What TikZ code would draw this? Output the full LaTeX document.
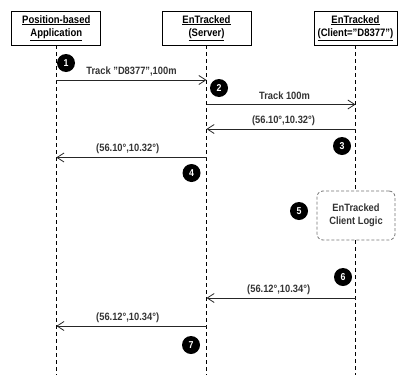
\documentclass[tikz,border=0pt]{standalone}
\usepackage{fontspec}
\setmainfont[FakeStretch=0.88]{Liberation Sans}
\usetikzlibrary{arrows.meta,positioning,calc}
\tikzset{
 actor/.style={draw,align=center,minimum height=34pt,minimum width=89pt,line width=0.8pt,
             font=\bfseries\fontsize{10.8}{13.5}\selectfont},
 life/.style={dash pattern=on 4pt off 3pt,line width=0.7pt},
 msg/.style={-{Straight Barb[length=7pt,width=9pt]},line width=0.8pt,draw=black!85},
 lbl/.style={anchor=base,inner sep=0pt,text=black!80,font=\bfseries\fontsize{10.6}{11}\selectfont},
 stepnum/.style={circle,fill=black,text=white,minimum size=18pt,inner sep=0pt,
             font=\bfseries\fontsize{10}{10}\selectfont},
 logic/.style={draw=black!55,dash pattern=on 3pt off 2pt,line width=0.8pt,rounded corners=6pt,
             minimum width=78pt,minimum height=49pt,align=center,text=black!80,
             font=\bfseries\fontsize{10.6}{12.5}\selectfont}
}
\begin{document}
\begin{tikzpicture}[x=1pt,y=-1pt]
\useasboundingbox (0,0) rectangle (398,375);
% actors
\node[actor] (app) at (56.3,28) {\underline{Position-based}\\\underline{Application}};
\node[actor] (server) at (206.5,28) {\underline{EnTracked}\\\underline{(Server)}};
\node[actor,minimum width=83pt] (client) at (355.5,28) {\underline{EnTracked}\\\underline{(Client="D8377")}};
\node[logic] (logic) at (356,215.5) {EnTracked\\Client Logic};
\coordinate (bottom) at (0,375);
% lifelines
\draw[life] (app.south) -- (app.south|-bottom);
\draw[life] (server.south) -- (server.south|-bottom);
\draw[life] (client.south) -- (client.south|-logic.north);
\draw[life] (client.south|-logic.south) -- (client.south|-bottom);
% messages
\coordinate (m1) at (0,80);
\coordinate (m2) at (0,104.5);
\coordinate (m3) at (0,129);
\coordinate (m4) at (0,157.5);
\coordinate (m6) at (0,298);
\coordinate (m7) at (0,326);
\draw[msg] (app|-m1) -- (server|-m1);
\draw[msg] (server|-m2) -- (client|-m2);
\draw[msg] (client|-m3) -- (server|-m3);
\draw[msg] (server|-m4) -- (app|-m4);
\draw[msg] (client|-m6) -- (server|-m6);
\draw[msg] (server|-m7) -- (app|-m7);
\node[lbl] (t1) at (131.5,74.8) {Track "D8377",100m};
\node[lbl] (t2) at (284.5,99) {Track 100m};
\node[lbl] (t3) at (283.5,123.3) {(56.10°,10.32°)};
\node[lbl] (t4) at (127.7,151.8) {(56.10°,10.32°)};
\node[lbl] (t6) at (278.7,292.3) {(56.12°,10.34°)};
\node[lbl] (t7) at (127.7,320.3) {(56.12°,10.34°)};
% step numbers
\node[stepnum] (s1) at (66,63) {1};
\node[stepnum] (s2) at (219,88) {2};
\node[stepnum] (s3) at (342,146) {3};
\node[stepnum] (s4) at (191.5,173) {4};
\node[stepnum] (s5) at (299,211) {5};
\node[stepnum] (s6) at (343,277) {6};
\node[stepnum] (s7) at (191,345) {7};
\end{tikzpicture}
\end{document}
